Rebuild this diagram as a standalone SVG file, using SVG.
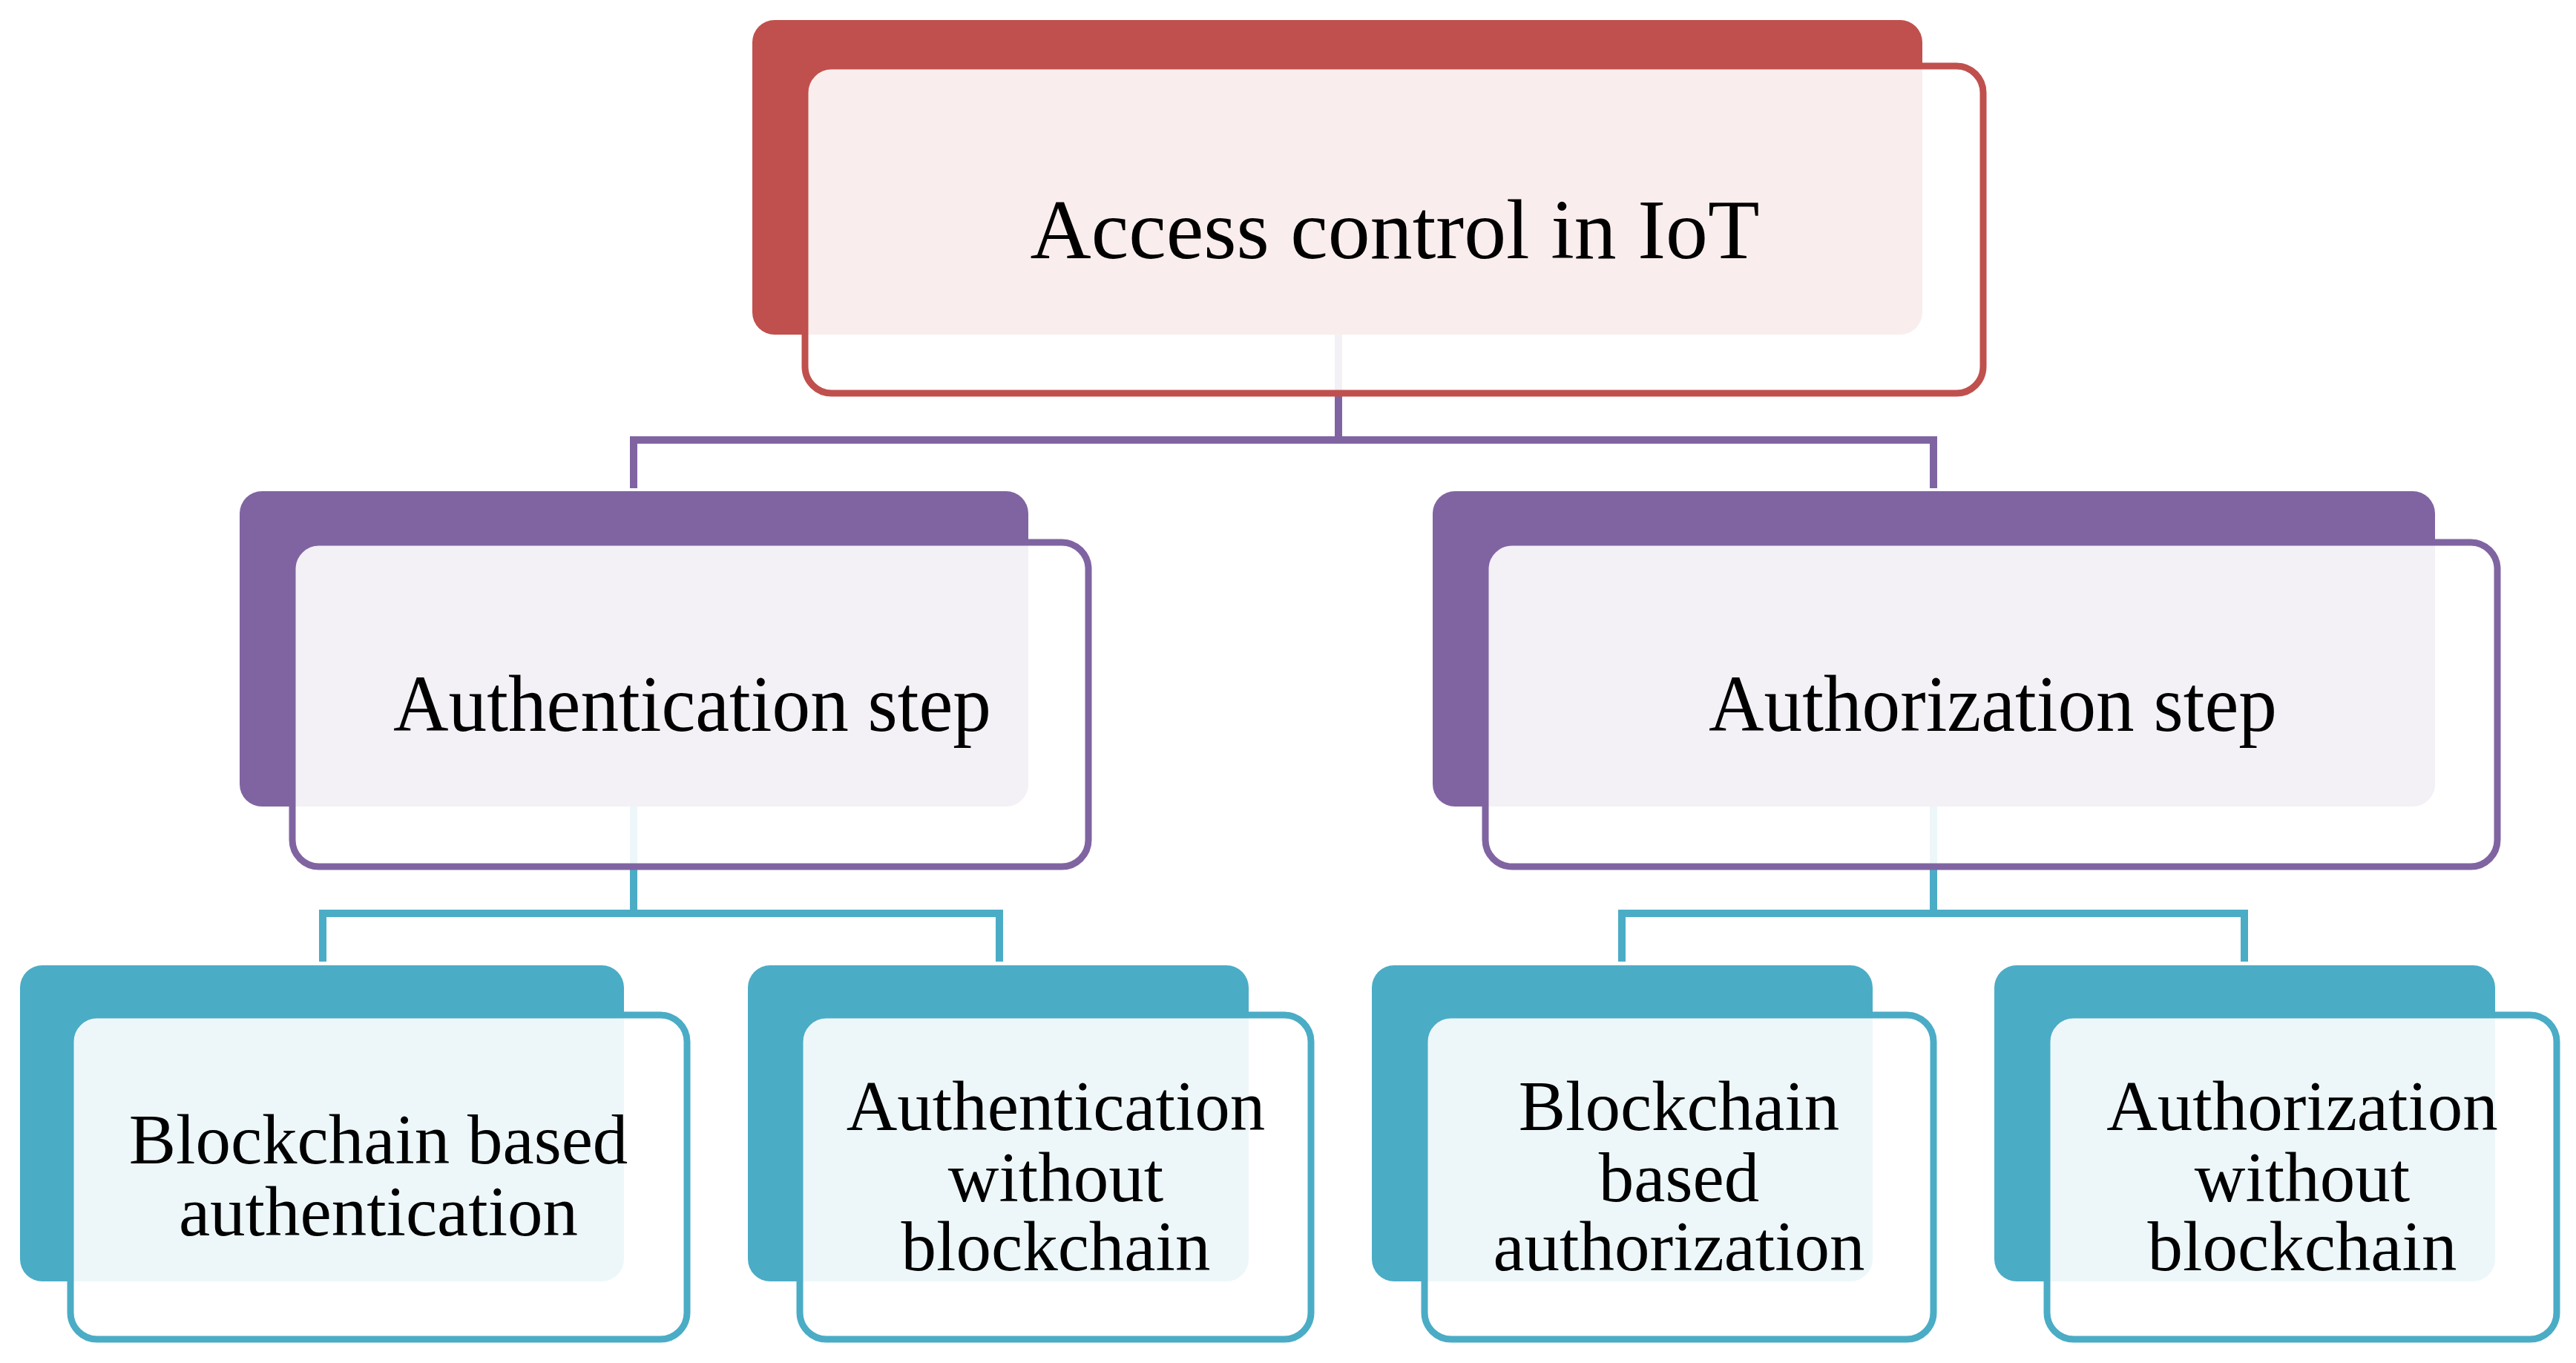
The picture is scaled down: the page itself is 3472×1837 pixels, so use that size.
<svg xmlns="http://www.w3.org/2000/svg" width="3472" height="1837" viewBox="0 0 3472 1837">
<style>
.bk{stroke:none}
.fr{fill:#ffffff;fill-opacity:0.9;stroke-width:9}
.red .bk{fill:#c0504d}.red .fr{stroke:#c0504d}
.pur .bk{fill:#8064a2}.pur .fr{stroke:#8064a2}
.teal .bk{fill:#4bacc6}.teal .fr{stroke:#4bacc6}
text{font-family:"Liberation Serif","Times New Roman",serif;fill:#000;text-anchor:middle}
.t1{font-size:114px}
.t2{font-size:108px}
.t3{font-size:95px}
.c{fill:none;stroke-width:10}
</style>
<rect width="3472" height="1837" fill="#ffffff"/>
<g id="connectors">
<path class="c" stroke="#8064a2" d="M1804 450V593M854 658V593H2606V658"/>
<path class="c" stroke="#4bacc6" d="M854 1087V1231M435 1296V1231H1347V1296"/>
<path class="c" stroke="#4bacc6" d="M2606 1087V1231M2186 1296V1231H3025V1296"/>
</g>
<g id="node-root" class="red">
<rect class="bk" x="1014" y="27" width="1577" height="424" rx="30"/>
<rect class="fr" x="1085" y="89" width="1588" height="441" rx="36"/>
<text class="t1" x="1880" y="348" textLength="983" lengthAdjust="spacingAndGlyphs">Access control in IoT</text>
</g>
<g id="node-authentication" class="pur">
<rect class="bk" x="323" y="662" width="1063" height="425" rx="30"/>
<rect class="fr" x="394" y="731" width="1073" height="437" rx="36"/>
<text class="t2" x="933" y="985" textLength="806" lengthAdjust="spacingAndGlyphs">Authentication step</text>
</g>
<g id="node-authorization" class="pur">
<rect class="bk" x="1931" y="662" width="1351" height="425" rx="30"/>
<rect class="fr" x="2002" y="731" width="1364" height="437" rx="36"/>
<text class="t2" x="2686" y="985" textLength="766" lengthAdjust="spacingAndGlyphs">Authorization step</text>
</g>
<g id="node-bc-authn" class="teal">
<rect class="bk" x="27" y="1301" width="814" height="426" rx="30"/>
<rect class="fr" x="95" y="1368" width="831" height="437" rx="36"/>
<text class="t3" x="510" y="1568">Blockchain based</text>
<text class="t3" x="510" y="1665">authentication</text>
</g>
<g id="node-authn-no-bc" class="teal">
<rect class="bk" x="1008" y="1301" width="675" height="426" rx="30"/>
<rect class="fr" x="1078" y="1368" width="689" height="437" rx="36"/>
<text class="t3" x="1423" y="1523">Authentication</text>
<text class="t3" x="1423" y="1619">without</text>
<text class="t3" x="1423" y="1712">blockchain</text>
</g>
<g id="node-bc-authz" class="teal">
<rect class="bk" x="1849" y="1301" width="675" height="426" rx="30"/>
<rect class="fr" x="1920" y="1368" width="686" height="437" rx="36"/>
<text class="t3" x="2263" y="1523">Blockchain</text>
<text class="t3" x="2263" y="1619">based</text>
<text class="t3" x="2263" y="1712">authorization</text>
</g>
<g id="node-authz-no-bc" class="teal">
<rect class="bk" x="2688" y="1301" width="675" height="426" rx="30"/>
<rect class="fr" x="2759" y="1368" width="687" height="437" rx="36"/>
<text class="t3" x="3103" y="1523">Authorization</text>
<text class="t3" x="3103" y="1619">without</text>
<text class="t3" x="3103" y="1712">blockchain</text>
</g>
</svg>
